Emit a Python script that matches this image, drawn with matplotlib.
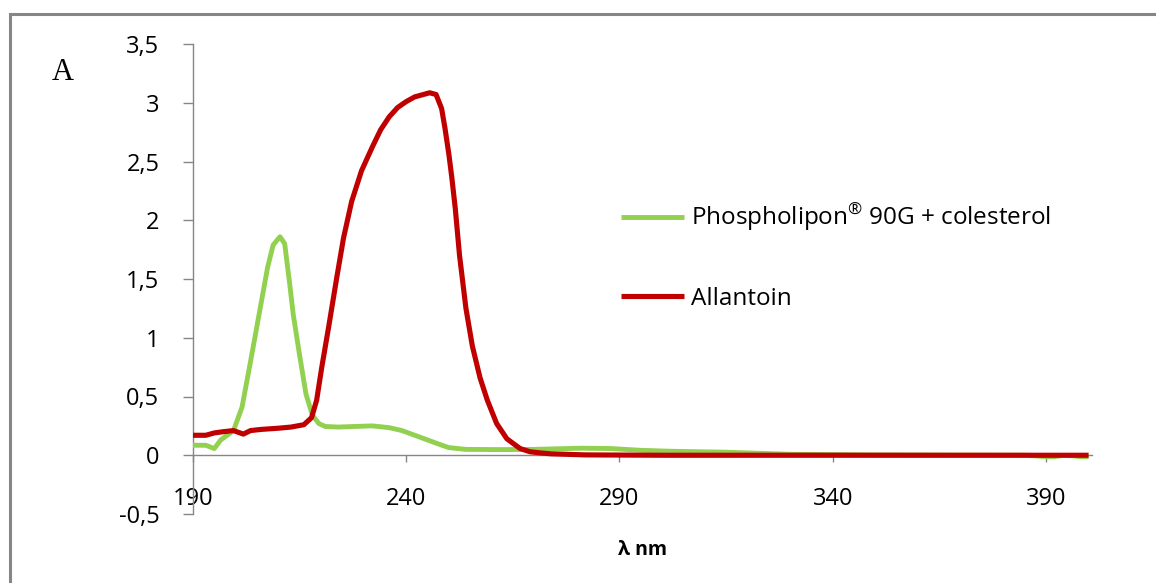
import matplotlib
matplotlib.use("Agg")
import matplotlib.pyplot as plt
from matplotlib.patches import Rectangle

plt.rcParams['font.family'] = ['Open Sans', 'DejaVu Sans']
plt.rcParams['mathtext.fontset'] = 'custom'
plt.rcParams['mathtext.rm'] = 'Open Sans'
plt.rcParams['mathtext.it'] = 'Open Sans'

# UV absorption spectra
phospho_nm = [190, 193, 195, 196.5, 199.5, 201.5, 203.5, 205.5, 207.5, 208.8, 210.4,
              211.5, 212.7, 213.5, 215, 216.5, 218, 219.5, 221, 224, 228, 232, 236,
              239, 242, 245, 248, 250, 254, 262, 270, 281, 288, 295, 302, 315, 330,
              350, 370, 385, 390, 392, 394, 396, 398, 400]
phospho_abs = [0.085, 0.085, 0.057, 0.13, 0.21, 0.41, 0.80, 1.20, 1.60, 1.79, 1.86,
               1.80, 1.45, 1.20, 0.85, 0.52, 0.34, 0.27, 0.245, 0.24, 0.245, 0.25, 0.235,
               0.21, 0.17, 0.13, 0.09, 0.065, 0.05, 0.048, 0.05, 0.06, 0.057, 0.042,
               0.034, 0.026, 0.008, 0.003, 0.001, 0.0, -0.012, -0.012, -0.002, -0.004,
               -0.012, -0.012]

allantoin_nm = [190, 193, 195, 197, 199.5, 201.8, 203.5, 206, 210, 213, 216, 217.8, 219,
                220.2, 221.8, 223.7, 225.3, 227.2, 229.5, 232, 234, 236, 238, 240, 242,
                244, 245.5, 247, 248.3, 249.1, 250, 250.7, 251.5, 252.5, 254, 255.5,
                257.3, 259, 261.2, 263.6, 266.7, 269, 271.4, 274, 277.6, 282, 300, 350, 400]
allantoin_abs = [0.17, 0.17, 0.19, 0.20, 0.21, 0.18, 0.21, 0.22, 0.23, 0.24, 0.26, 0.32,
                 0.47, 0.75, 1.09, 1.51, 1.85, 2.16, 2.42, 2.62, 2.77, 2.88, 2.96, 3.01,
                 3.05, 3.07, 3.085, 3.07, 2.95, 2.78, 2.56, 2.36, 2.10, 1.70, 1.25, 0.93,
                 0.66, 0.47, 0.27, 0.14, 0.057, 0.03, 0.02, 0.012, 0.008, 0.003, 0.0, 0.0, 0.0]

x_ticks = [190, 240, 290, 340, 390]
y_ticks = [-0.5, 0, 0.5, 1, 1.5, 2, 2.5, 3, 3.5]
y_tick_labels = ['-0,5', '0', '0,5', '1', '1,5', '2', '2,5', '3', '3,5']

series_names = ['Phospholipon$^{®}$ 90G + colesterol', 'Allantoin']
series_colors = ['#92D050', '#C00000']

W, H = 1156, 583
fig = plt.figure(figsize=(W / 100, H / 100), dpi=100)
ax = fig.add_axes([193 / W, 1 - 514 / H, (1092 - 193) / W, (514 - 44) / H])

ax.plot(phospho_nm, phospho_abs, color=series_colors[0], lw=3.5,
        solid_joinstyle='round', solid_capstyle='butt', label=series_names[0], zorder=3)
ax.plot(allantoin_nm, allantoin_abs, color=series_colors[1], lw=3.7,
        solid_joinstyle='round', solid_capstyle='butt', label=series_names[1], zorder=4)

ax.set_xlim(190, 400.8)
ax.set_ylim(-0.5, 3.5)

gray = '#868686'
for s in ['top', 'right']:
    ax.spines[s].set_visible(False)
ax.spines['left'].set_color(gray)
ax.spines['bottom'].set_color(gray)
ax.spines['left'].set_linewidth(1.0)
ax.spines['bottom'].set_linewidth(1.0)
ax.spines['bottom'].set_position(('data', 0))
ax.spines['bottom'].set_zorder(2)

ax.set_xticks(x_ticks)
ax.set_xticklabels([str(v) for v in x_ticks])
ax.set_yticks(y_ticks)
ax.set_yticklabels(y_tick_labels)
ax.tick_params(axis='y', direction='out', length=7.2, width=1.0, color=gray,
               pad=17, labelsize=17, labelcolor='black')
ax.tick_params(axis='x', direction='out', length=5, width=1.0, color=gray,
               pad=18, labelsize=17, labelcolor='black')

ax.set_xlabel('λ nm', fontsize=14, fontweight='bold')
ax.xaxis.set_label_coords(0.5, -0.055)

fig.text(52 / W, 1 - 73 / H, 'A', family='Liberation Serif', fontsize=22,
         va='center', ha='left')

ax.legend(loc='upper left', bbox_to_anchor=((621 - 193) / (1092 - 193), (514 - 202) / (514 - 44)),
          frameon=False, fontsize=17.5, handlelength=2.6, handletextpad=0.3,
          labelspacing=2.2, borderaxespad=0, borderpad=0)

fig.add_artist(Rectangle((9.5 / W, -0.05), 1.1, 1 - 13.5 / H + 0.05,
                         transform=fig.transFigure, fill=False, edgecolor=gray,
                         linewidth=2.2))

fig.savefig('out.png', dpi=100)
